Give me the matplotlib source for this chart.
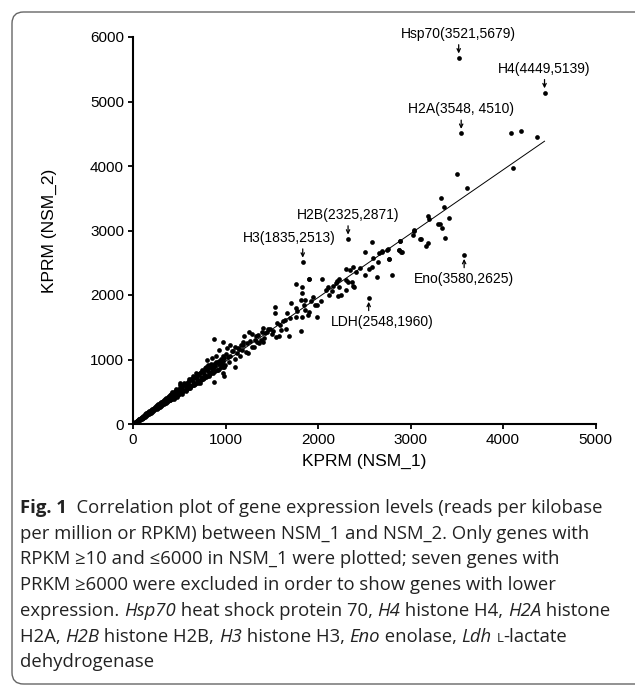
import numpy as np
import matplotlib
matplotlib.use('Agg')
import matplotlib.pyplot as plt
from matplotlib.patches import FancyBboxPatch

# RPKM values, NSM_1 (x) vs NSM_2 (y)
low_x = [12, 15, 18, 22, 25, 28, 32, 35, 38, 40, 45, 48, 52, 55, 60, 62, 65, 70, 72, 78,
         80, 85, 88, 92, 95, 100, 105, 110, 112, 118, 120, 125, 130, 135, 140, 145, 150, 155, 160, 165,
         170, 178, 182, 190, 195, 200, 205, 212, 218, 225, 230, 238, 242, 250, 255, 262, 268, 275, 280, 288,
         292, 300, 305, 312, 318, 325, 330, 338, 345, 350, 355, 362, 368, 375, 380, 388, 395, 400, 405, 412,
         418, 425, 430, 438, 445, 450, 455, 462, 470, 478, 485, 492, 500, 505, 512, 520, 528, 535, 542, 550,
         558, 565, 572, 580, 588, 595, 602, 610, 618, 625, 632, 640, 648, 655, 665, 672, 680, 690, 698, 705,
         715, 722, 730, 740, 750, 758, 765, 775, 785, 795, 805, 815, 825, 835, 845, 855, 865, 875, 885, 895,
         905, 915, 925, 935, 948, 960, 972, 985, 995,
         50, 90, 130, 170, 210, 250, 290, 330, 370, 410, 450, 490, 530, 570, 610, 650, 690, 730, 770, 810,
         850, 890, 930, 970]
low_y = [15, 10, 22, 18, 30, 20, 35, 28, 45, 32, 50, 40, 58, 45, 62, 70, 55, 78, 60, 85,
         70, 95, 75, 100, 85, 110, 92, 125, 100, 130, 108, 140, 115, 150, 125, 165, 135, 170, 150, 185,
         155, 195, 165, 210, 175, 225, 190, 240, 200, 250, 210, 265, 225, 280, 235, 290, 245, 305, 260, 320,
         270, 335, 280, 345, 295, 360, 305, 375, 320, 390, 330, 400, 340, 420, 355, 430, 365, 450, 375, 460,
         390, 470, 400, 490, 410, 500, 425, 520, 435, 530, 450, 545, 465, 560, 480, 575, 490, 590, 505, 610,
         520, 620, 530, 640, 545, 655, 560, 670, 575, 690, 585, 700, 600, 720, 615, 735, 630, 750, 645, 770,
         660, 790, 680, 800, 700, 820, 715, 835, 730, 855, 750, 870, 765, 890, 785, 905, 800, 925, 820, 945,
         840, 960, 860, 980, 880, 1000, 900, 1020, 920,
         52, 92, 132, 172, 212, 255, 292, 335, 372, 415, 455, 495, 535, 575, 612, 655, 695, 735, 775, 815,
         850, 895, 935, 975]

band_x = [420, 440, 465, 480, 510, 530, 555, 575, 600, 620, 645, 660, 700, 720, 745, 760, 790, 820, 840, 870,
          900, 920, 950, 980, 1010, 1040, 1070, 1100, 1130, 1160, 1190, 1220, 1260, 1290, 1330, 1360, 1390, 1420, 1460, 1510,
          1560, 1640]
band_y = [500, 380, 540, 420, 600, 470, 630, 510, 700, 560, 740, 600, 780, 640, 840, 700, 880, 740, 930, 790,
          960, 830, 1010, 880, 1080, 960, 1130, 1010, 1180, 1060, 1230, 1120, 1290, 1200, 1370, 1260, 1420, 1330, 1470, 1440,
          1560, 1620]

scatter_x = [508, 678, 707, 832, 861, 876, 976, 987, 850, 796, 814, 778, 880, 930, 897, 958, 976, 971, 1013, 976,
             1030, 1049, 1085, 1103, 1149, 1164, 1192, 1200, 1246, 1099, 1257, 1283, 1308, 1344, 1355, 1380, 1401, 1401, 1427, 1481,
             1499, 1541, 1574, 1589, 1605, 1654, 1530, 1530, 1668, 1683, 1705, 1762, 1776, 1813, 1816, 1824, 1830, 1863, 1896, 1968,
             1992, 1906, 1762, 1824, 1859, 1903, 1943, 1986, 1050, 1120, 1180, 1230, 1320, 1450, 1620, 1700, 1760, 1850, 1920]
scatter_y = [640, 786, 631, 786, 863, 657, 786, 744, 1018, 992, 915, 863, 1322, 1147, 1054, 941, 879, 1267, 1174, 1054,
             1043, 1225, 1132, 1199, 1158, 1225, 1276, 1364, 1096, 879, 1426, 1395, 1199, 1271, 1380, 1302, 1266, 1483, 1416, 1468,
             1395, 1344, 1364, 1535, 1457, 1468, 1809, 1716, 1726, 1364, 1871, 1664, 1752, 1442, 1922, 2026, 1664, 1767, 1690, 1845,
             1654, 1732, 2176, 2119, 1927, 2243, 1974, 1850, 1060, 1100, 1150, 1250, 1310, 1420, 1590, 1650, 1800, 1840, 1900]

high_x = [2587, 2511, 2663, 2689, 2754, 2886, 3038, 2872, 2897, 3110, 2591, 2764, 2547, 2587, 2454, 2378, 2346, 2306, 2414, 2511,
          2638, 2796, 2303, 2328, 2371, 2378, 2386, 2299, 2224, 2205, 2195, 2230, 2219, 2252, 2159, 2112, 2086, 2148, 2123, 2040,
          1903, 2032, 2645, 4086, 4198, 4364, 4112, 3499, 3607, 3326, 3362, 3186, 3204, 3420, 3294, 3319, 3344, 3373, 3041, 3023,
          3106, 3193, 3171, 2890, 2876, 2904, 2749, 2689, 2771]
high_y = [2822, 2671, 2656, 2682, 2708, 2837, 2992, 2698, 2667, 2868, 2574, 2553, 2408, 2429, 2424, 2434, 2383, 2398, 2357, 2305,
          2274, 2305, 2233, 2207, 2197, 2140, 2119, 2078, 2248, 2217, 2191, 2124, 1984, 2000, 2135, 2119, 2073, 2062, 2000, 2243,
          2243, 1907, 2507, 4512, 4547, 4454, 3964, 3876, 3664, 3504, 3360, 3225, 3178, 3198, 3101, 3101, 3043, 2888, 3003, 2930,
          2873, 2806, 2760, 2842, 2702, 2667, 2702, 2662, 2558]

# labelled genes
gene_names = ['Hsp70', 'H4', 'H2A', 'H2B', 'H3', 'Eno', 'LDH']
gene_x = [3521, 4449, 3548, 2325, 1835, 3580, 2548]
gene_y = [5679, 5139, 4510, 2871, 2513, 2625, 1960]
gene_labels = ['Hsp70(3521,5679)', 'H4(4449,5139)', 'H2A(3548, 4510)', 'H2B(2325,2871)',
               'H3(1835,2513)', 'Eno(3580,2625)', 'LDH(2548,1960)']

# fitted line
fit_slope = 0.99
fit_intercept = -20

# caption, (text, style) pieces: n normal, b bold, i italic, s small caps
caption = [
    [('Fig. 1', 'b'), ('  Correlation plot of gene expression levels (reads per kilobase', 'n')],
    [('per million or RPKM) between NSM_1 and NSM_2. Only genes with', 'n')],
    [('RPKM \u226510 and \u22646000 in NSM_1 were plotted; seven genes with', 'n')],
    [('PRKM \u22656000 were excluded in order to show genes with lower', 'n')],
    [('expression. ', 'n'), ('Hsp70', 'i'), (' heat shock protein 70, ', 'n'), ('H4', 'i'),
     (' histone H4, ', 'n'), ('H2A', 'i'), (' histone', 'n')],
    [('H2A, ', 'n'), ('H2B', 'i'), (' histone H2B, ', 'n'), ('H3', 'i'), (' histone H3, ', 'n'),
     ('Eno', 'i'), (' enolase, ', 'n'), ('Ldh', 'i'), (' ', 'n'), ('L', 's'), ('-lactate', 'n')],
    [('dehydrogenase', 'n')],
]

W, H = 635, 690
fig = plt.figure(figsize=(W / 100, H / 100), dpi=100)

# rounded frame around figure + caption
box = FancyBboxPatch((12 / W, 6 / H), 1.2, (H - 18) / H, transform=fig.transFigure,
                     boxstyle='round,pad=0,rounding_size=0.018', mutation_aspect=W / H,
                     ec='#666666', fc='none', lw=1.0)
fig.patches.append(box)

ax = fig.add_axes([133 / W, 266 / H, 462.5 / W, 387 / H])

all_x = low_x + band_x + scatter_x + high_x + gene_x
all_y = low_y + band_y + scatter_y + high_y + gene_y
ax.plot(all_x, all_y, 'o', color='black', ms=3.4, mew=0)

xs = np.array([min(all_x), max(all_x)])
ax.plot(xs, fit_slope * xs + fit_intercept, color='black', lw=0.7)

label_dx = {'H3': -13, 'LDH': 14}
below = ['Eno', 'LDH']
for name, gx, gy, lab in zip(gene_names, gene_x, gene_y, gene_labels):
    sgn = -1 if name in below else 1
    ax.annotate('', xy=(gx, gy), xytext=(0, sgn * 13), textcoords='offset pixels',
                arrowprops=dict(arrowstyle='->,head_length=0.25,head_width=0.12', lw=0.9,
                                color='black', shrinkA=0, shrinkB=3))
    ax.annotate(lab, xy=(gx, gy), xytext=(label_dx.get(name, 0), sgn * 24),
                textcoords='offset pixels', ha='center', va='center',
                fontsize=10, family='Liberation Sans')

ax.set_xlim(0, 5000)
ax.set_ylim(0, 6000)
ax.set_xticks(range(0, 5001, 1000))
ax.set_yticks(range(0, 6001, 1000))
ax.spines['top'].set_visible(False)
ax.spines['right'].set_visible(False)
for s in ['left', 'bottom']:
    ax.spines[s].set_linewidth(1.5)
ax.tick_params(direction='out', length=3.5, width=1.3, labelsize=11, pad=3)
for t in ax.get_xticklabels() + ax.get_yticklabels():
    t.set_family('Liberation Sans')
ax.set_xlabel('KPRM (NSM_1)', fontsize=12.5, family='Liberation Sans', labelpad=5)
ax.set_ylabel('KPRM (NSM_2)', fontsize=12.5, family='Liberation Sans', labelpad=24)

# caption, laid out piece by piece
cap_size = 13.3
styles = {
    'n': dict(fontsize=cap_size),
    'b': dict(fontsize=cap_size, weight='bold'),
    'i': dict(fontsize=cap_size, style='italic'),
    's': dict(fontsize=cap_size * 0.72),
}
renderer = fig.canvas.get_renderer()


def piece_width(s, kw):
    # bar-wrapped so leading/trailing spaces count
    t1 = fig.text(0, 0, '|' + s + '|', family='Open Sans', **kw)
    t2 = fig.text(0, 0, '||', family='Open Sans', **kw)
    w = t1.get_window_extent(renderer).width - t2.get_window_extent(renderer).width
    t1.remove()
    t2.remove()
    return w


for i, line in enumerate(caption):
    x = 20.0
    y = 1 - (513 + i * 25.7) / H
    for s, st in line:
        fig.text(x / W, y, s, va='baseline', ha='left', family='Open Sans',
                 color='#222222', **styles[st])
        x += piece_width(s, styles[st])

fig.savefig('out.png', dpi=100)
